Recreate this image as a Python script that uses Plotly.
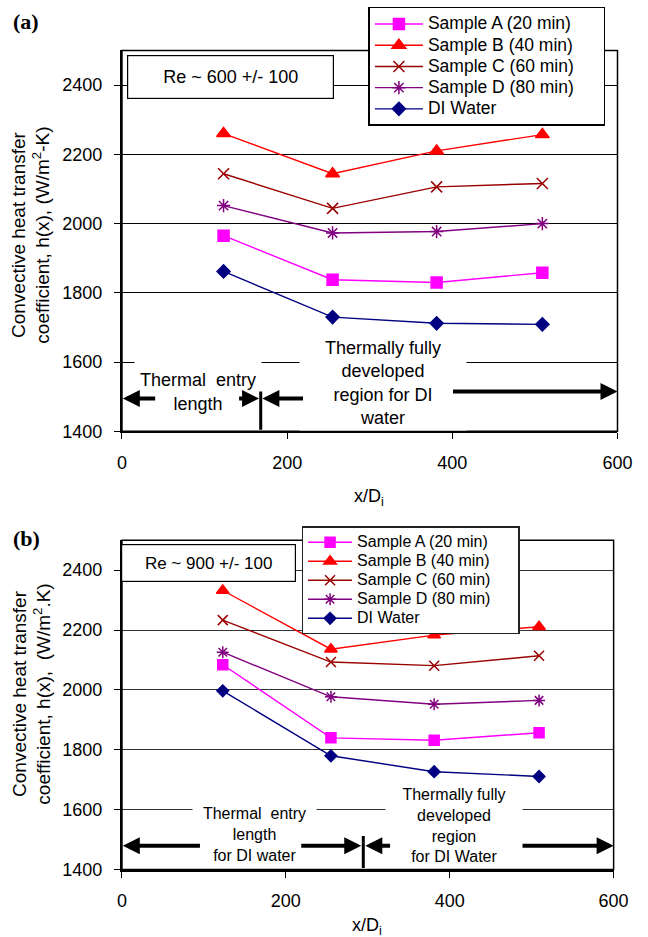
import plotly.graph_objects as go

# ---------------- data ----------------
X_POS = [123, 255, 381, 509]

SERIES_NAMES = ["Sample A (20 min)", "Sample B (40 min)", "Sample C (60 min)",
                "Sample D (80 min)", "DI Water"]

# panel (a)  Re ~ 600
A_a = [1965, 1838, 1830, 1858]
B_a = [2260, 2144, 2210, 2257]
C_a = [2144, 2044, 2106, 2116]
D_a = [2052, 1973, 1977, 2000]
DI_a = [1862, 1730, 1712, 1709]

# panel (b)  Re ~ 900
A_b = [2084, 1840, 1832, 1857]
B_b = [2332, 2136, 2183, 2211]
C_b = [2233, 2093, 2081, 2114]
D_b = [2126, 1977, 1952, 1965]
DI_b = [1997, 1780, 1727, 1711]

X_TICKS = [0, 200, 400, 600]
Y_TICKS = [1400, 1600, 1800, 2000, 2200, 2400]

# ---------------- styles ----------------
FONT = "Liberation Sans, Arial, Helvetica, sans-serif"
COLORS = ["#FF00FF", "#FF0000", "#990000", "#800080", "#000080"]
SYMBOLS = ["square", "triangle-up", "x-thin-open", "asterisk-open", "diamond"]
W, H = 648, 937
NBSP = "\u00a0"


def px2paper_x(px):
    return px / W


def px2paper_y(py):
    return 1 - py / H


fig = go.Figure()

panels = [
    dict(vals=[A_a, B_a, C_a, D_a, DI_a], xa="x", ya="y", legend="legend",
         sizes=[11, 12, 11, 11, 10], lfont=17.5, pad=5),
    dict(vals=[A_b, B_b, C_b, D_b, DI_b], xa="x2", ya="y2", legend="legend2",
         sizes=[10, 11, 10, 10, 9], lfont=16, pad=5),
]

for p in panels:
    for name, vals, col, sym, sz in zip(SERIES_NAMES, p["vals"], COLORS, SYMBOLS, p["sizes"]):
        label = f'<span style="font-size:{p["lfont"]}px">{name}{NBSP * p["pad"]}</span>'
        fig.add_trace(go.Scatter(
            x=X_POS, y=vals, name=label, mode="lines+markers",
            xaxis=p["xa"], yaxis=p["ya"], legend=p["legend"],
            line=dict(color=col, width=1.4),
            marker=dict(symbol=sym, size=sz, color=col,
                        line=dict(color=col, width=1.5)),
        ))

axis_common = dict(
    showline=True, linecolor="black", linewidth=2, mirror=False,
    ticks="outside", ticklen=6, tickcolor="black", tickwidth=1,
    tickfont=dict(family=FONT, size=18, color="black"),
    zeroline=False, ticklabelstandoff=8,
)

fig.update_layout(
    width=W, height=H,
    margin=dict(l=0, r=0, t=0, b=0),
    paper_bgcolor="white", plot_bgcolor="white",
    font=dict(family=FONT, color="black"),
    xaxis=dict(domain=[px2paper_x(120.7), px2paper_x(632)], anchor="y",
               range=[0, 600], tickvals=X_TICKS, showgrid=False, **axis_common),
    yaxis=dict(domain=[px2paper_y(436), px2paper_y(51)], anchor="x",
               range=[1400, 2500], tickvals=Y_TICKS, showgrid=True,
               gridcolor="black", gridwidth=1, **axis_common),
    xaxis2=dict(domain=[px2paper_x(120.7), px2paper_x(628)], anchor="y2",
                range=[0, 600], tickvals=X_TICKS, showgrid=False, **axis_common),
    yaxis2=dict(domain=[px2paper_y(879), px2paper_y(546)], anchor="x2",
                range=[1400, 2500], tickvals=Y_TICKS, showgrid=True,
                gridcolor="#333333", gridwidth=1, **axis_common),
    legend=dict(x=px2paper_x(375), y=px2paper_y(7), xanchor="left", yanchor="top",
                bgcolor="white", bordercolor="black", borderwidth=1.5,
                font=dict(family=FONT, size=14, color="black"), tracegroupgap=0,
                itemwidth=48),
    legend2=dict(x=px2paper_x(306), y=px2paper_y(532), xanchor="left", yanchor="top",
                 bgcolor="white", bordercolor="#222222", borderwidth=1.5,
                 font=dict(family=FONT, size=11.5, color="black"), tracegroupgap=0,
                 itemwidth=44),
    showlegend=True,
)

# frames (thin top/right borders)
for xa, ya in [("x", "y"), ("x2", "y2")]:
    fig.add_shape(type="rect", xref=f"{xa} domain", yref=f"{ya} domain",
                  x0=0, x1=1, y0=0, y1=1, line=dict(color="black", width=1.5),
                  layer="above")

ann = []

# Re boxes
ann.append(dict(text="Re ~ 600 +/- 100", x=131, y=2423, xref="x", yref="y",
                showarrow=False, width=203, height=40, bgcolor="white",
                bordercolor="black", borderwidth=1.2,
                font=dict(family=FONT, size=18, color="black")))
ann.append(dict(text="Re ~ 900 +/- 100", x=105.7, y=2425, xref="x2", yref="y2",
                showarrow=False, width=171, height=34, bgcolor="white",
                bordercolor="black", borderwidth=1.2,
                font=dict(family=FONT, size=17, color="black")))

# region labels (a)
ann.append(dict(text="Thermal  entry<br>length", x=92, y=1514, xref="x", yref="y",
                showarrow=False, width=124, height=64, bgcolor="white",
                font=dict(family=FONT, size=18, color="black")))
ann.append(dict(text="Thermally fully<br>developed<br>region for DI<br>water", x=315.5, y=1540,
                xref="x", yref="y", showarrow=False, width=164, height=92, bgcolor="white",
                font=dict(family=FONT, size=18, color="black")))
# region labels (b)
ann.append(dict(text="Thermal  entry<br>length<br>for DI water", x=161.5, y=1517,
                xref="x2", yref="y2", showarrow=False, width=121, height=63, bgcolor="white",
                font=dict(family=FONT, size=16, color="black")))
ann.append(dict(text="Thermally fully<br>developed<br>region<br>for DI Water", x=405, y=1547,
                xref="x2", yref="y2", showarrow=False, width=134, bgcolor="white",
                font=dict(family=FONT, size=16, color="black")))


def arrow(x_head, y_head, x_tail, y_tail, xr, yr, head=2, w=4):
    return dict(x=x_head, y=y_head, ax=x_tail, ay=y_tail, xref=xr, yref=yr,
                axref=xr, ayref=yr, text="", showarrow=True, arrowhead=head,
                arrowsize=0.85, arrowwidth=w, arrowcolor="black",
                standoff=0, startstandoff=0)


# arrows (a)
ann.append(arrow(1, 1495, 42, 1495, "x", "y"))
ann.append(arrow(166, 1495, 140, 1495, "x", "y"))
ann.append(arrow(170, 1495, 221, 1495, "x", "y"))
ann.append(arrow(600, 1515, 399, 1515, "x", "y"))
ann.append(arrow(168, 1515, 168, 1400, "x", "y", head=0, w=3))
# arrows (b)
ann.append(arrow(1, 1480, 97, 1480, "x2", "y2"))
ann.append(arrow(292, 1480, 217, 1480, "x2", "y2"))
ann.append(arrow(297, 1480, 329, 1480, "x2", "y2"))
ann.append(arrow(600, 1480, 487, 1480, "x2", "y2"))
ann.append(arrow(294.5, 1512, 294.5, 1400, "x2", "y2", head=0, w=3))

# axis titles
ann.append(dict(text="Convective heat transfer<br>coefficient, h(x), (W/m<sup>2</sup>-K)",
                x=px2paper_x(27), y=px2paper_y(238), xref="paper", yref="paper",
                xanchor="center", yanchor="middle",
                textangle=-90, showarrow=False,
                font=dict(family=FONT, size=19, color="black")))
ann.append(dict(text="Convective heat transfer<br>coefficient, h(x),  (W/m<sup>2</sup>.K)",
                x=px2paper_x(27), y=px2paper_y(702), xref="paper", yref="paper",
                xanchor="center", yanchor="middle",
                textangle=-90, showarrow=False,
                font=dict(family=FONT, size=19, color="black")))
ann.append(dict(text="x/D<sub>i</sub>", x=px2paper_x(376), y=px2paper_y(503),
                xref="paper", yref="paper", showarrow=False,
                xanchor="center", yanchor="middle",
                font=dict(family=FONT, size=18, color="black")))
ann.append(dict(text="x/D<sub>i</sub>", x=px2paper_x(374), y=px2paper_y(936),
                xref="paper", yref="paper", showarrow=False,
                xanchor="center", yanchor="middle",
                font=dict(family=FONT, size=18, color="black")))
# panel labels
ann.append(dict(text="<b>(a)</b>", x=px2paper_x(6), y=px2paper_y(22), xref="paper",
                yref="paper", xanchor="left", yanchor="middle", showarrow=False,
                font=dict(family="Liberation Serif, Times New Roman, serif", size=22, color="black")))
ann.append(dict(text="<b>(b)</b>", x=px2paper_x(6), y=px2paper_y(544), xref="paper",
                yref="paper", xanchor="left", yanchor="middle", showarrow=False,
                font=dict(family="Liberation Serif, Times New Roman, serif", size=22, color="black")))

fig.update_layout(annotations=ann)

fig.write_html("out.html")
